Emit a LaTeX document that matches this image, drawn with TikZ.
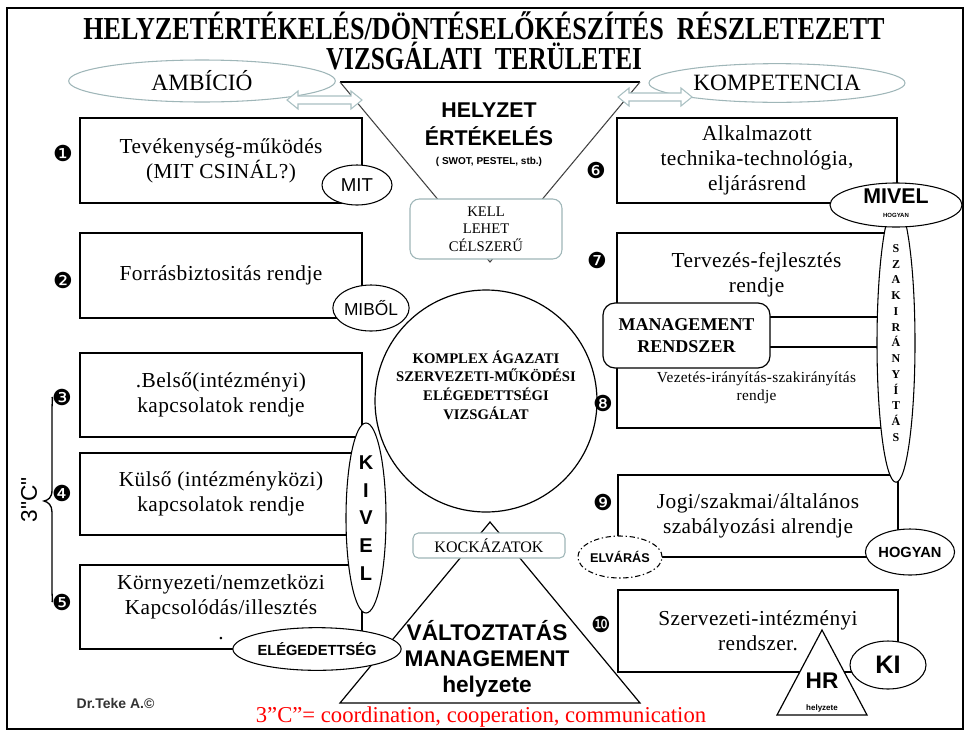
\documentclass[tikz,border=0pt]{standalone}
\usepackage{graphicx}
\usepackage{fontspec}
\setmainfont{Liberation Serif}
\newfontfamily\bodyfont[LetterSpace=2]{Liberation Serif}
\newfontfamily\arial{Liberation Sans}
\newfontfamily\djv{DejaVu Sans}
\usetikzlibrary{shapes.geometric}
\newcommand\fsz[2]{\fontsize{#1pt}{#2pt}\selectfont}
\definecolor{tealgray}{HTML}{9FB6B8}
\definecolor{arrowgray}{HTML}{A9C0C2}
\begin{document}
\begin{tikzpicture}[x=0.75pt,y=-0.75pt,
  bx/.style={draw=black, line width=0.9pt, fill=white, inner sep=0pt, align=center, font=\bodyfont\fsz{16}{18.75}},
  lab/.style={ellipse, draw=black, line width=0.8pt, fill=white, inner sep=0pt, align=center},
  numb/.style={inner sep=0pt, font=\djv\fsz{16.5}{17}},
  pale/.style={draw=tealgray, line width=0.8pt},
  tri/.style={draw=black, line width=0.9pt, fill=white, line join=miter}]
\useasboundingbox (0,0) rectangle (970,736);
\draw[line width=1.5pt] (7,8) rectangle (963,729);

% title
\node[anchor=base, font=\bfseries\fsz{24}{26}] (title1) at (484,39) {\resizebox{601pt}{\height}{HELYZETÉRTÉKELÉS/DÖNTÉSELŐKÉSZÍTÉS\hspace{0.5em}RÉSZLETEZETT}};
\node[anchor=base, font=\bfseries\fsz{24}{26}] (title2) at (484,69) {\resizebox{237pt}{\height}{VIZSGÁLATI\hspace{0.5em}TERÜLETEI}};

% inverted triangle (helyzetértékelés)
\coordinate (tl) at (340,82);
\coordinate (tr) at (640,82);
\coordinate (apex) at (490,262);
\draw[line width=1.6pt] (tl) -- (tr);
\draw[line width=0.8pt, draw=black!75] (tl) -- (apex) -- (tr);

% top ellipses
\node[ellipse, pale, minimum width=200pt, minimum height=31.5pt, inner sep=0pt, font=\fsz{17.5}{18}] (amb) at (202,81) {AMBÍCIÓ};
\node[ellipse, pale, minimum width=192pt, minimum height=29pt, inner sep=0pt, font=\fsz{17.5}{18}] (komp) at (777,83) {KOMPETENCIA};

% hollow double arrows
\draw[draw=arrowgray, fill=white, line width=0.8pt] (287,100) -- (298,91) -- (298,96) -- (351,96) -- (351,91) -- (362,100) -- (351,109) -- (351,104) -- (298,104) -- (298,109) -- cycle;
\draw[draw=arrowgray, fill=white, line width=0.8pt] (618,97) -- (629,88) -- (629,93) -- (681,93) -- (681,88) -- (692,97) -- (681,106) -- (681,101) -- (629,101) -- (629,106) -- cycle;

\node[anchor=base, font=\arial\bfseries\fsz{16}{16}] (hz1) at (489,117) {HELYZET};
\node[anchor=base, font=\arial\bfseries\fsz{16}{16}] (hz2) at (489,145) {ÉRTÉKELÉS};
\node[anchor=base, font=\arial\bfseries\fsz{7.5}{8}] (hz3) at (489,164) {( SWOT, PESTEL, stb.)};

\node[pale, fill=white, rounded corners=7pt, inner sep=0pt, minimum width=114pt, minimum height=45pt, align=center, font=\fsz{11}{13}] (kell) at (486,229) {KELL\\LEHET\\CÉLSZERŰ};

% central circle
\node[circle, draw, line width=0.9pt, minimum size=166.5pt, inner sep=0pt] (circ) at (486,401) {};
\node[font=\bfseries\fsz{11}{14}, align=center] (circtxt) at (486,385) {KOMPLEX ÁGAZATI\\SZERVEZETI-MŰKÖDÉSI\\ELÉGEDETTSÉGI\\VIZSGÁLAT};

% left boxes
\node[bx, minimum width=211.5pt, minimum height=63.75pt] (b1) at (221,160.5) {Tevékenység-működés\\(MIT CSINÁL?)};
\node[bx, minimum width=211.5pt, minimum height=63.75pt] (b2) at (221,275.5) {Forrásbiztositás rendje};
\node[bx, minimum width=211.5pt, minimum height=63pt] (b3) at (221,395) {.Belső(intézményi)\\kapcsolatok rendje};
\node[bx, minimum width=211.5pt, minimum height=61.5pt] (b4) at (221,494) {Külső (intézményközi)\\kapcsolatok rendje};
\node[bx, minimum width=211.5pt, minimum height=63pt] (b5) at (221,607) {Környezeti/nemzetközi\\Kapcsolódás/illesztés\\.};

% change management triangle
\coordinate (va) at (490,522);
\coordinate (vl) at (340,703);
\coordinate (vr) at (640,703);
\draw[tri] (va) -- (vr) -- (vl) -- cycle;
\node[pale, fill=white, rounded corners=4pt, inner sep=0pt, minimum width=114pt, minimum height=18.75pt, font=\fsz{12}{13}] (kock) at (489,545.5) {KOCKÁZATOK};
\node[anchor=base, font=\arial\bfseries\fsz{17}{17}] (valt) at (487,640) {VÁLTOZTATÁS};
\node[anchor=base, font=\arial\bfseries\fsz{17}{17}] (mgm2) at (487,666) {MANAGEMENT};
\node[anchor=base, font=\arial\bfseries\fsz{17}{17}] (hely) at (487,692) {helyzete};

% left labels
\node[lab, minimum width=52.5pt, minimum height=30pt, font=\arial\fsz{14}{14}] (mit) at (357,185) {MIT};
\node[lab, minimum width=51pt, minimum height=34.5pt, font=\arial\fsz{13}{13}] (mibol) at (371,308) {MIBŐL};
\node[lab, minimum width=30pt, minimum height=142.5pt, font=\arial\bfseries\fsz{15}{20.8}] (kivel) at (366,518) {K\\I\\V\\E\\L};
\node[lab, minimum width=117pt, minimum height=32pt, font=\arial\bfseries\fsz{11}{11}] (eleg) at (317,649) {ELÉGEDETTSÉG};

% right boxes
\node[bx, minimum width=210pt, minimum height=63.75pt] (b6) at (757,160.5) {Alkalmazott\\technika-technológia,\\eljárásrend};
\node[bx, minimum width=209.25pt, minimum height=63pt] (b7) at (756.5,275) {Tervezés-fejlesztés\\rendje};
\node[bx, minimum width=209.25pt, minimum height=60.75pt, font=\bodyfont\fsz{11.5}{13.5}] (b8) at (756.5,387.5) {Vezetés-irányítás-szakirányítás\\rendje};
\node[bx, minimum width=210pt, minimum height=61.5pt] (b9) at (758,516) {Jogi/szakmai/általános\\szabályozási alrendje};
\node[bx, minimum width=210pt, minimum height=61.5pt] (b10) at (758,631) {Szervezeti-intézményi\\rendszer.};

\node[draw, line width=0.9pt, fill=white, rounded corners=9pt, inner sep=0pt, minimum width=125.25pt, minimum height=48.75pt, align=center, font=\bfseries\fsz{13.5}{16.5}] (mgmt) at (686.5,335.5) {MANAGEMENT\\RENDSZER};

\node[lab, minimum width=28.5pt, minimum height=172.5pt, font=\bfseries\fsz{9}{11.8}] (szak) at (896,343) {S\\Z\\A\\K\\I\\R\\Á\\N\\Y\\Í\\T\\Á\\S};

\node[lab, minimum width=99pt, minimum height=33pt] (mivel) at (896,205) {};
\node[anchor=base, font=\arial\bfseries\fsz{16}{16}] (mivelt) at (896,203) {MIVEL};
\node[anchor=base, font=\arial\bfseries\fsz{4.5}{5}] (mivelh) at (896,217) {HOGYAN};

\node[lab, dash pattern=on 4pt off 2pt on 1pt off 2pt, minimum width=63pt, minimum height=31.5pt, font=\arial\bfseries\fsz{9.5}{10}] (elv) at (620,557) {ELVÁRÁS};
\node[lab, minimum width=64.5pt, minimum height=34.5pt, font=\arial\bfseries\fsz{11}{11}] (hogy) at (910,552) {HOGYAN};
\node[lab, minimum width=57pt, minimum height=36pt, font=\arial\bfseries\fsz{19}{19}] (ki) at (888,665) {KI};

\coordinate (hra) at (822,630);
\coordinate (hrl) at (777,715);
\coordinate (hrr) at (867,715);
\draw[tri] (hra) -- (hrr) -- (hrl) -- cycle;
\node[anchor=base, font=\arial\bfseries\fsz{17}{17}] (hr) at (822,688) {HR};
\node[anchor=base, font=\arial\bfseries\fsz{6}{6}] (hrh) at (822,710) {helyzete};

% numbers
\node[numb] (n1) at (63,153) {❶};
\node[numb] (n2) at (63,280) {❷};
\node[numb] (n3) at (62,397) {❸};
\node[numb] (n4) at (62,493) {❹};
\node[numb] (n5) at (62,602) {❺};
\node[numb] (n6) at (596,170) {❻};
\node[numb] (n7) at (597,260) {❼};
\node[numb] (n8) at (603,403) {❽};
\node[numb] (n9) at (603,502) {❾};
\node[numb] (n10) at (601,624) {❿};

% brace
\draw[line width=1pt] (n3.west) .. controls (53,397) and (52,402) .. (52,410) -- (52,490) .. controls (52,498) and (48,500) .. (44,501) .. controls (48,502) and (52,505) .. (52,512) -- (52,590) .. controls (52,598) and (53,602) .. (n5.west);
\node[rotate=90, font=\arial\fsz{17}{17}] (threec) at (29,500) {3"C"};

\node[anchor=base, text=red, font=\fsz{17}{17}] (cdef) at (481,722) {3”C”= coordination, cooperation, communication};
\node[anchor=base west, font=\arial\bfseries\fsz{10.5}{11}, text=black!80] (dr) at (72,708) {Dr.Teke A.©};
\end{tikzpicture}
\end{document}
